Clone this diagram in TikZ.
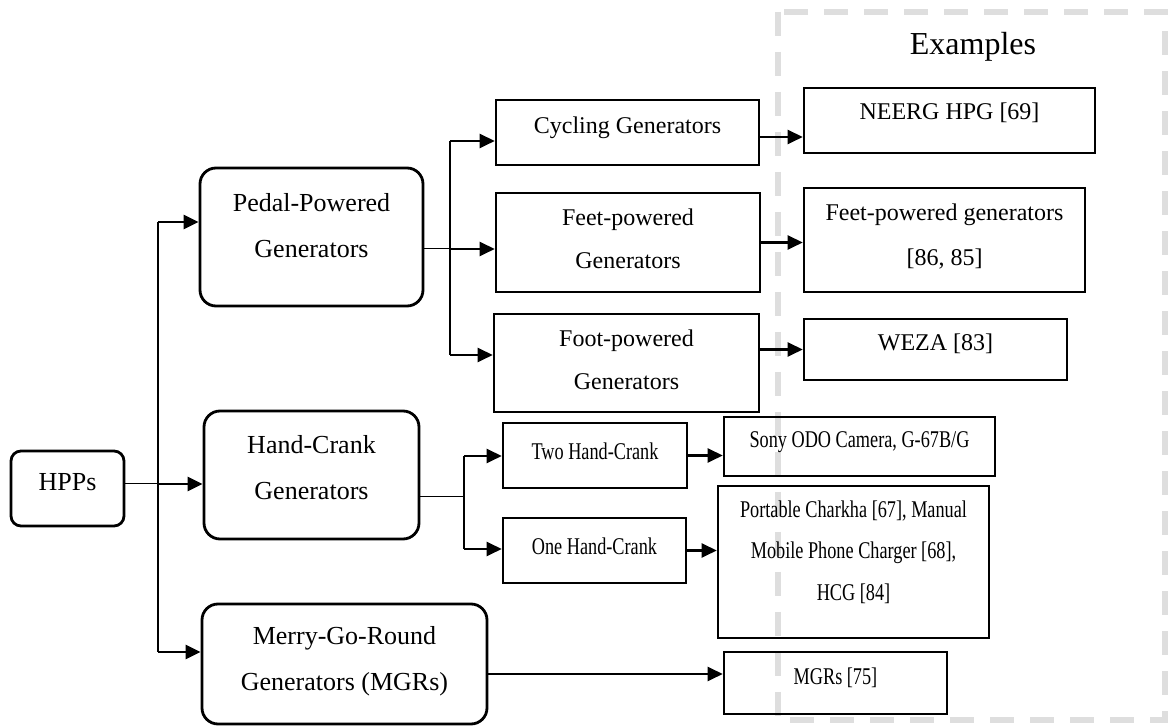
\documentclass[tikz,border=0pt]{standalone}
\usepackage{fontspec}
\setmainfont{Liberation Serif}
\newfontfamily\narrowfont[FakeStretch=0.76]{Liberation Serif}
\usetikzlibrary{arrows.meta}
\usetikzlibrary{positioning}

\begin{document}
\begin{tikzpicture}[x=0.5pt, y=-0.5pt,
	rbox/.style={draw, line width=1.4pt, rounded corners=8pt, inner sep=0pt},
	sbox/.style={draw, line width=1.3pt, inner sep=0pt},
	big/.style={align=center, font=\fontsize{13}{23}\selectfont},
	mid/.style={align=center, font=\fontsize{12}{21.5}\selectfont},
	narrow/.style={align=center, font=\narrowfont\fontsize{12}{20.75}\selectfont},
	arr/.style={line width=1.2pt, -{Triangle[length=7.5pt,width=7pt]}},
	trunk/.style={line width=0.8pt},
	stub/.style={line width=0.5pt}]
	\useasboundingbox (0,0) rectangle (1168,726);
	% examples frame
	\draw[black!13, line width=3pt, dash pattern=on 12pt off 8pt] (778,12) rectangle (1165,720);
	\node[font=\fontsize{16}{18}\selectfont] (extitle) at (973,47) {Examples};
	
	% left column
	\node[rbox, rounded corners=5pt, minimum width=56.5pt, minimum height=37.5pt, label={[big,yshift=3.25pt]center:HPPs}] (hpp) at (67.5,488.5) {};
	\node[rbox, minimum width=111.5pt, minimum height=69pt, label={[big,yshift=5.5pt]center:{Pedal-Powered\\Generators}}] (pedal) at (311.5,237) {};
	\node[rbox, minimum width=107.5pt, minimum height=64pt, label={[big,yshift=3.5pt]center:{Hand-Crank\\Generators}}] (hand) at (311.5,475) {};
	\node[rbox, minimum width=142.5pt, minimum height=60pt, label={[big,yshift=1.5pt]center:{Merry-Go-Round\\Generators (MGRs)}}] (mgr) at (344.5,664) {};
	
	% middle column
	\node[sbox, minimum width=131.5pt, minimum height=32.5pt, label={[mid,yshift=2.3pt]center:{Cycling Generators}}] (cyc) at (627.5,132.5) {};
	\node[sbox, minimum width=132pt, minimum height=49.5pt, label={[mid,yshift=2pt]center:{Feet-powered\\Generators}}] (feetg) at (628,242.5) {};
	\node[sbox, minimum width=132.5pt, minimum height=49pt, label={[mid,yshift=1.5pt]center:{Foot-powered\\Generators}}] (footg) at (626.5,363) {};
	\node[sbox, minimum width=92pt, minimum height=32.5pt, label={[narrow,yshift=2pt]center:{Two Hand-Crank}}] (two) at (595,455.5) {};
	\node[sbox, minimum width=91.5pt, minimum height=32.5pt, label={[narrow,yshift=2pt]center:{One Hand-Crank}}] (one) at (594.5,550.5) {};
	
	% examples
	\node[sbox, minimum width=145.5pt, minimum height=32.5pt, label={[mid,yshift=4pt]center:{NEERG HPG [69]}}] (neerg) at (949.5,120.5) {};
	\node[sbox, minimum width=140.5pt, minimum height=52pt, label={[mid,font=\fontsize{12}{22.5}\selectfont,yshift=1.5pt]center:{Feet-powered generators\\{[86, 85]}}}] (feetex) at (944.5,240) {};
	\node[sbox, minimum width=131.5pt, minimum height=30.5pt, label={[mid,yshift=3pt]center:{WEZA [83]}}] (weza) at (935.5,349.5) {};
	\node[sbox, minimum width=135.5pt, minimum height=29.5pt, label={[narrow,yshift=2pt]center:{Sony ODO Camera, G-67B/G}}] (sony) at (859.5,446.5) {};
	\node[sbox, minimum width=135.5pt, minimum height=76pt, label={[narrow,yshift=5pt]center:{Portable Charkha [67], Manual\\Mobile Phone Charger [68],\\HCG [84]}}] (charkha) at (853.5,562) {};
	\node[sbox, minimum width=111.5pt, minimum height=31pt, label={[narrow,yshift=2.5pt]center:{MGRs [75]}}] (mgrex) at (835.5,683) {};
	
	% HPPs branches
	\coordinate (hmid) at (158,484);
	\coordinate (htop) at (158,222);
	\coordinate (hbot) at (158,652);
	\draw[stub] (hpp.east |- hmid) -- (hmid);
	\draw[trunk] (htop) -- (hbot);
	\draw[arr] (htop) -- (pedal.west |- htop);
	\draw[arr] (hmid) -- (hand.west |- hmid);
	\draw[arr] (hbot) -- (mgr.west |- hbot);
	
	% pedal branches
	\coordinate (pmid) at (450,249);
	\coordinate (ptop) at (450,141);
	\coordinate (pbot) at (450,355);
	\draw[stub] (pedal.east |- pmid) -- (pmid);
	\draw[trunk] (ptop) -- (pbot);
	\draw[arr] (ptop) -- (cyc.west |- ptop);
	\draw[arr] (pmid) -- (feetg.west |- pmid);
	\draw[arr] (pbot) -- (footg.west |- pbot);
	
	% hand-crank branches
	\coordinate (cmid) at (464,497);
	\coordinate (ctop) at (464,456);
	\coordinate (cbot) at (464,549);
	\draw[stub] (hand.east |- cmid) -- (cmid);
	\draw[trunk] (ctop) -- (cbot);
	\draw[arr] (ctop) -- (two.west |- ctop);
	\draw[arr] (cbot) -- (one.west |- cbot);
	
	% to the examples
	\draw[arr] ([yshift=-2.25pt]cyc.east) coordinate (c1) -- (c1 -| neerg.west);
	\draw[arr] (feetg.east) -- (feetex.west |- feetg.east);
	\draw[arr] (footg.east |- weza.west) -- (weza.west);
	\draw[arr] (two.east) -- (sony.west |- two.east);
	\draw[arr] (one.east) -- (charkha.west |- one.east);
	\draw[arr] ([yshift=-5pt]mgr.east) coordinate (m1) -- (m1 -| mgrex.west);
\end{tikzpicture}
\end{document}
